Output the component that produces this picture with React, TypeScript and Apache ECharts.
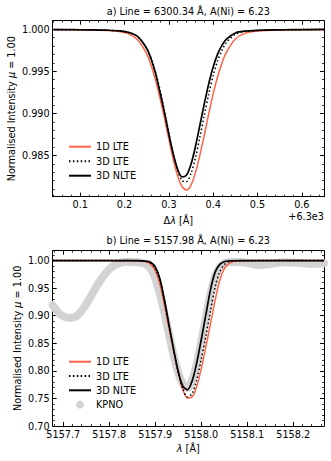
import React, { useEffect, useRef } from "react";
import * as echarts from "echarts";

// ---------- Panel a) Line = 6300.34 Å (x offset from 6300) ----------
const topX = [0.04, 0.08, 0.12, 0.16, 0.19, 0.21, 0.23, 0.25, 0.26, 0.27, 0.28, 0.29, 0.30, 0.31, 0.32, 0.33, 0.34, 0.35, 0.36, 0.37, 0.38, 0.39, 0.40, 0.41, 0.42, 0.43, 0.45, 0.47, 0.50, 0.54, 0.58, 0.65];
const top1DLTE = [0.99994, 0.99992, 0.99989, 0.99983, 0.99970, 0.99944, 0.99870, 0.99706, 0.99571, 0.99396, 0.99182, 0.98946, 0.98694, 0.98451, 0.98256, 0.98129, 0.98090, 0.98148, 0.98296, 0.98504, 0.98743, 0.98995, 0.99234, 0.99435, 0.99601, 0.99727, 0.99882, 0.99947, 0.99977, 0.99987, 0.99991, 0.99994];
const top3DLTE = [0.99995, 0.99993, 0.99991, 0.99987, 0.99978, 0.99959, 0.99910, 0.99772, 0.99652, 0.99487, 0.99279, 0.99030, 0.98768, 0.98513, 0.98318, 0.98200, 0.98189, 0.98287, 0.98473, 0.98717, 0.98977, 0.99228, 0.99449, 0.99623, 0.99751, 0.99842, 0.99937, 0.99970, 0.99984, 0.99990, 0.99993, 0.99996];
const top3DNLTE = [0.99995, 0.99994, 0.99991, 0.99987, 0.99979, 0.99960, 0.99911, 0.99770, 0.99646, 0.99477, 0.99250, 0.99014, 0.98752, 0.98518, 0.98332, 0.98245, 0.98268, 0.98395, 0.98606, 0.98858, 0.99115, 0.99352, 0.99551, 0.99703, 0.99810, 0.99881, 0.99954, 0.99976, 0.99986, 0.99991, 0.99994, 0.99996];
const topXTicks = [0.1, 0.2, 0.3, 0.4, 0.5, 0.6];
const topYTicks = [0.985, 0.99, 0.995, 1.0];

// ---------- Panel b) Line = 5157.98 Å ----------
const botX = [5157.677, 5157.75, 5157.80, 5157.84, 5157.86, 5157.88, 5157.89, 5157.90, 5157.91, 5157.92, 5157.93, 5157.94, 5157.95, 5157.96, 5157.97, 5157.98, 5157.99, 5158.00, 5158.01, 5158.02, 5158.03, 5158.04, 5158.05, 5158.06, 5158.07, 5158.09, 5158.12, 5158.18, 5158.267];
const bot1DLTE = [1.0, 1.0, 1.0, 0.99995, 0.99972, 0.99774, 0.99322, 0.98193, 0.95733, 0.91918, 0.87651, 0.83534, 0.79644, 0.76657, 0.75076, 0.75251, 0.77134, 0.80372, 0.84338, 0.88504, 0.92746, 0.96335, 0.98494, 0.99458, 0.99819, 0.99977, 1.0, 1.0, 1.0];
const bot3DLTE = [1.0, 1.0, 1.0, 1.0, 0.99985, 0.99859, 0.99529, 0.98586, 0.96404, 0.92560, 0.88100, 0.83731, 0.79689, 0.76688, 0.75250, 0.75870, 0.78275, 0.82070, 0.86286, 0.90799, 0.95090, 0.97917, 0.99256, 0.99764, 0.99928, 0.99993, 1.0, 1.0, 1.0];
const bot3DNLTE = [1.0, 1.0, 1.0, 1.0, 0.99991, 0.99913, 0.99706, 0.98849, 0.96757, 0.92903, 0.88320, 0.83903, 0.79884, 0.77228, 0.76570, 0.78098, 0.81365, 0.85642, 0.90154, 0.94642, 0.97862, 0.99272, 0.99793, 0.99941, 0.99981, 1.0, 1.0, 1.0, 1.0];
const kpnoX = [5157.677, 5157.69, 5157.70, 5157.715, 5157.73, 5157.745, 5157.76, 5157.775, 5157.79, 5157.805, 5157.82, 5157.84, 5157.86, 5157.87, 5157.88, 5157.89, 5157.90, 5157.91, 5157.92, 5157.93, 5157.94, 5157.95, 5157.96, 5157.97, 5157.98, 5157.99, 5158.00, 5158.01, 5158.02, 5158.03, 5158.04, 5158.05, 5158.07, 5158.09, 5158.11, 5158.13, 5158.15, 5158.18, 5158.21, 5158.24, 5158.267];
const kpnoY = [0.919, 0.905, 0.899, 0.896, 0.900, 0.915, 0.935, 0.957, 0.975, 0.988, 0.995, 0.998, 0.997, 0.996, 0.993, 0.985, 0.968, 0.940, 0.905, 0.866, 0.828, 0.797, 0.776, 0.769, 0.782, 0.812, 0.852, 0.896, 0.938, 0.970, 0.987, 0.995, 0.998, 0.997, 0.994, 0.992, 0.994, 0.997, 0.996, 0.994, 0.995];
const botXTicks = [5157.7, 5157.8, 5157.9, 5158.0, 5158.1, 5158.2];
const botYTicks = [0.70, 0.75, 0.80, 0.85, 0.90, 0.95, 1.00];

const FONT = "DejaVu Sans";
const FS = 9.7;
const RED = "#ff6347";

function minorList(start: number, end: number, step: number, majors: number[], dec: number) {
  const out: number[] = [];
  const n = Math.round((end - start) / step);
  for (let i = 0; i <= n; i++) {
    const v = +(start + i * step).toFixed(dec);
    if (!majors.some((m) => Math.abs(m - v) < step / 10)) out.push(v);
  }
  return out;
}

function axesFor(
  kind: "x" | "y",
  gridIndex: number,
  min: number,
  max: number,
  majors: number[],
  minors: number[],
  fmt: (v: number) => string
) {
  const pos = kind === "x" ? ["bottom", "top"] : ["left", "right"];
  const base = {
    type: "value",
    gridIndex,
    min,
    max,
    splitLine: { show: false },
    axisLine: { show: false, onZero: false, lineStyle: { color: "#000", width: 1 } },
    axisLabel: { show: false },
    axisTick: { show: false },
  };
  const list: any[] = [];
  pos.forEach((p, k) => {
    list.push({
      ...base,
      position: p,
      axisLine: { show: true, onZero: false, lineStyle: { color: "#000", width: 1 } },
      axisTick: { show: true, inside: true, length: 4, customValues: majors, lineStyle: { color: "#000", width: 1 } },
      axisLabel:
        k === 0
          ? { show: true, customValues: majors, formatter: fmt, margin: 3, color: "#000", fontFamily: FONT, fontSize: FS }
          : { show: false },
    });
    list.push({
      ...base,
      position: p,
      axisTick: { show: true, inside: true, length: 2, customValues: minors, lineStyle: { color: "#000", width: 0.8 } },
    });
  });
  return list;
}

export default function App() {
  const ref = useRef<HTMLDivElement>(null);
  useEffect(() => {
    if (!ref.current) return;
    const chart = echarts.init(ref.current, undefined, { renderer: "svg" });

    const topXMin = 0.038, topXMax = 0.65, topYMin = 0.9801, topYMax = 1.001;
    const botXMin = 5157.677, botXMax = 5158.267, botYMin = 0.70, botYMax = 1.018;

    const xAxes = [
      ...axesFor("x", 0, topXMin, topXMax, topXTicks, minorList(0.04, 0.64, 0.02, topXTicks, 2), (v) => v.toFixed(1)),
      ...axesFor("x", 1, botXMin, botXMax, botXTicks, minorList(5157.68, 5158.26, 0.02, botXTicks, 2), (v) => v.toFixed(1)),
    ];
    const yAxes = [
      ...axesFor("y", 0, topYMin, topYMax, topYTicks, minorList(0.981, 1.0, 0.001, topYTicks, 3), (v) => v.toFixed(3)),
      ...axesFor("y", 1, botYMin, botYMax, botYTicks, minorList(0.71, 1.01, 0.01, botYTicks, 2), (v) => v.toFixed(2)),
    ];

    const pair = (xs: number[], ys: number[]) => xs.map((x, i) => [x, ys[i]]);
    const lineSeries = (name: string, xs: number[], ys: number[], grid: number, color: string, width: number, type: any, z: number) => ({
      type: "line",
      name,
      data: pair(xs, ys),
      xAxisIndex: grid * 4,
      yAxisIndex: grid * 4,
      symbol: "none",
      smooth: 0.3,
      z,
      itemStyle: { color },
      lineStyle: { color, width, type, cap: "butt" },
    });

    const rich = {
      n: { fontFamily: FONT, fontSize: FS, fill: "#000" },
      i: { fontFamily: FONT, fontSize: FS, fontStyle: "italic", fill: "#000" },
    };
    const txt = (x: number, y: number, text: string, align = "center", rotation = 0) => ({
      type: "text",
      x,
      y,
      rotation,
      style: { text, align, verticalAlign: "middle", fontFamily: FONT, fontSize: FS, fill: "#000", rich },
    });

    const legendBase = {
      orient: "vertical",
      left: 68,
      padding: 0,
      itemWidth: 22,
      itemHeight: 8,
      selectedMode: false,
      itemStyle: { opacity: 0 },
      textStyle: { fontFamily: FONT, fontSize: FS, color: "#000", lineHeight: 12 },
    };

    chart.setOption({
      animation: false,
      backgroundColor: "#fff",
      grid: [
        { left: 52.7, top: 20.7, width: 271.3, height: 176, containLabel: false },
        { left: 52.7, top: 250.7, width: 271.3, height: 175.3, containLabel: false },
      ],
      xAxis: xAxes,
      yAxis: yAxes,
      legend: [
        {
          ...legendBase,
          top: 140.7,
          itemGap: 2.5,
          data: ["1D LTE", "3D LTE", "3D NLTE"],
        },
        {
          ...legendBase,
          top: 355.7,
          itemGap: 2.3,
          data: ["1D LTE", "3D LTE", "3D NLTE", { name: "KPNO", icon: "circle", itemStyle: { opacity: 1, color: "#d3d3d3" } }],
        },
      ],
      series: [
        lineSeries("1D LTE", topX, top1DLTE, 0, RED, 1.5, "solid", 3),
        lineSeries("3D LTE", topX, top3DLTE, 0, "#000", 1.5, [1.5, 2.4], 4),
        lineSeries("3D NLTE", topX, top3DNLTE, 0, "#000", 1.7, "solid", 5),
        {
          type: "line",
          name: "KPNO",
          data: pair(kpnoX, kpnoY),
          xAxisIndex: 4,
          yAxisIndex: 4,
          symbol: "none",
          smooth: 0.3,
          z: 2,
          itemStyle: { color: "#d3d3d3" },
          lineStyle: { color: "#d3d3d3", width: 8, cap: "round", join: "round" },
        },
        lineSeries("1D LTE", botX, bot1DLTE, 1, RED, 1.5, "solid", 3),
        lineSeries("3D LTE", botX, bot3DLTE, 1, "#000", 1.5, [1.5, 2.4], 4),
        lineSeries("3D NLTE", botX, bot3DNLTE, 1, "#000", 1.7, "solid", 5),
      ],
      graphic: [
        txt(188.3, 11.7, "a) Line = 6300.34 Å, A(Ni) = 6.23"),
        txt(188.3, 240, "b) Line = 5157.98 Å, A(Ni) = 6.23"),
        txt(11.7, 108.7, "{n|Normalised Intensity }{i|μ}{n| = 1.00}", "center", Math.PI / 2),
        txt(17.3, 338.3, "{n|Normalised Intensity }{i|μ}{n| = 1.00}", "center", Math.PI / 2),
        txt(178.3, 220.5, "{n|Δ}{i|λ}{n| [Å]}"),
        txt(324, 216.7, "+6.3e3", "right"),
        txt(188.3, 448.3, "{i|λ}{n| [Å]}"),
      ],
    });
    return () => chart.dispose();
  }, []);
  return <div ref={ref} style={{ position: "fixed", left: 0, top: 0, width: 331, height: 461 }} />;
}
